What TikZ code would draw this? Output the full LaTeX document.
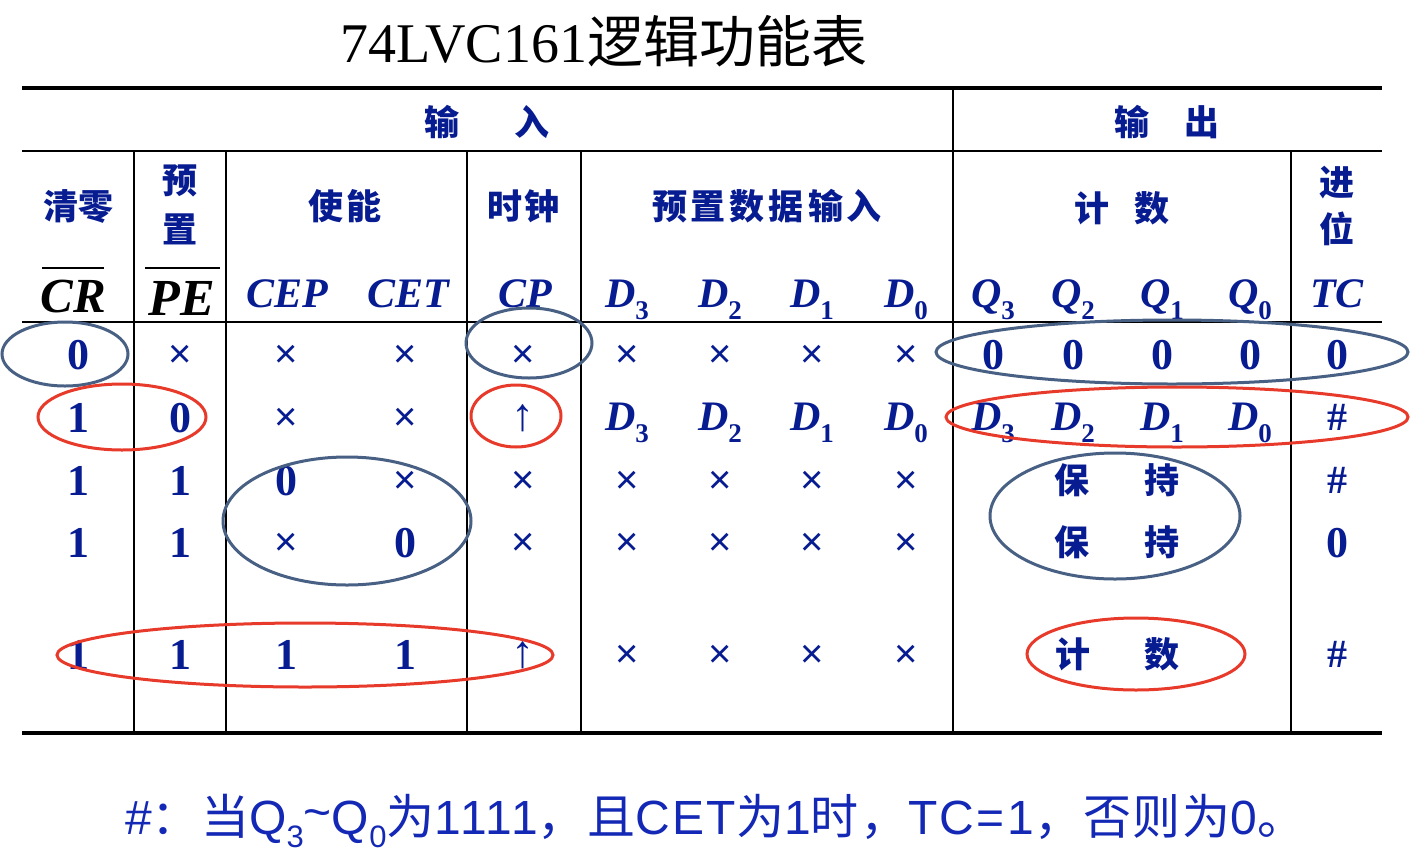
\documentclass[tikz,border=0pt]{standalone}
\usepackage{fontspec}
\setmainfont{Liberation Serif}
\newfontfamily\cjk{Noto Sans CJK SC}
\newfontfamily\lsans{Liberation Sans}
\newfontfamily\notesans[LetterSpace=5]{Liberation Sans}
\newfontfamily\notecjk[LetterSpace=3]{Noto Sans CJK SC}
\definecolor{tb}{RGB}{8,28,145}
\definecolor{fb}{RGB}{20,40,182}
\definecolor{eb}{RGB}{72,96,132}
\definecolor{er}{RGB}{232,58,42}
\newcommand\lowidx[1]{\raisebox{-0.3em}{\fontsize{27}{27}\selectfont\upshape #1}}
\newcommand\flowidx[1]{\raisebox{-0.28em}{\fontsize{31}{31}\selectfont #1}}
\begin{document}
\begin{tikzpicture}[x=1pt,y=-1pt,
  cn/.style={font=\cjk\bfseries\fontsize{35}{35}\selectfont,text=tb,inner sep=0pt},
  lab/.style={font=\bfseries\itshape\fontsize{42}{42}\selectfont,text=tb,inner sep=0pt,anchor=base},
  num/.style={font=\bfseries\fontsize{44}{44}\selectfont,text=tb,inner sep=0pt,anchor=base},
  crs/.style={font=\lsans\fontsize{40}{40}\selectfont,text=tb,inner sep=0pt,anchor=base},
  arr/.style={font=\fontsize{46}{46}\selectfont,text=tb,inner sep=0pt},
  hsh/.style={font=\bfseries\fontsize{40}{40}\selectfont,text=tb,inner sep=0pt,anchor=base},
  thick rule/.style={line width=4pt},
  mid rule/.style={line width=2.4pt},
  col rule/.style={line width=1.8pt},
  blue ring/.style={draw=eb,line width=3pt},
  red ring/.style={draw=er,line width=3pt}]
\useasboundingbox[fill=white] (0,0) rectangle (1410,854);

% title
\node[anchor=base west,inner sep=0pt,font=\fontsize{56}{56}\selectfont] (title) at (340,62)
  {74LVC161{\cjk\fontsize{56}{56}\selectfont 逻辑功能表}};

% rules
\coordinate (tl) at (22,88);   \coordinate (tr) at (1382,88);
\coordinate (hl) at (22,151);  \coordinate (hr) at (1382,151);
\coordinate (ml) at (22,322);  \coordinate (mr) at (1382,322);
\coordinate (bl) at (22,733);  \coordinate (br) at (1382,733);
\draw[thick rule] (tl) -- (tr);
\draw[thick rule] (bl) -- (br);
\draw[mid rule] (hl) -- (hr);
\draw[mid rule] (ml) -- (mr);
\foreach \x in {134,226,467,581,1291}{
  \draw[col rule] (\x,151) -- (\x,733);
}
\draw[col rule] (953,88) -- (953,733);

% header row 1
\node[cn] (inhead) at (487,122) {输\hspace{55pt}入};
\node[cn] (outhead) at (1167,122) {输\hspace{35pt}出};

% header row 2
\node[cn] (qingling) at (78,206) {清零};
\node[cn] (yu) at (180,181) {预};
\node[cn] (zhi) at (180,229) {置};
\node[cn] (shineng) at (345,206) {使\hspace{4pt}能};
\node[cn] (shizhong) at (523,206) {时\hspace{2pt}钟};
\node[cn] (yuzhi) at (767,206) {预\hspace{4pt}置\hspace{4pt}数\hspace{4pt}据\hspace{4pt}输\hspace{4pt}入};
\node[cn] (jishu) at (1122,208) {计\hspace{25pt}数};
\node[cn] (jin) at (1337,183) {进};
\node[cn] (wei) at (1337,229) {位};

% header row 3
\node[lab,text=black,font=\bfseries\itshape\fontsize{49}{49}\selectfont] (cr) at (73,312) {CR};
\node[lab,text=black,font=\bfseries\itshape\fontsize{52}{52}\selectfont] (pe) at (182,315) {PE};
\coordinate (cra) at (42,268); \coordinate (crb) at (104,268);
\coordinate (pea) at (145,268); \coordinate (peb) at (220,268);
\draw[line width=1.4pt] (cra) -- (crb);
\draw[line width=1.4pt] (pea) -- (peb);
\node[lab] (cep) at (287,307) {CEP};
\node[lab] (cet) at (408,307) {CET};
\node[lab] (cp) at (525,307) {CP};
\node[lab] (hd3) at (627,307) {D\lowidx{3}};
\node[lab] (hd2) at (720,307) {D\lowidx{2}};
\node[lab] (hd1) at (812,307) {D\lowidx{1}};
\node[lab] (hd0) at (906,307) {D\lowidx{0}};
\node[lab] (hq3) at (993,307) {Q\lowidx{3}};
\node[lab] (hq2) at (1073,307) {Q\lowidx{2}};
\node[lab] (hq1) at (1162,307) {Q\lowidx{1}};
\node[lab] (hq0) at (1250,307) {Q\lowidx{0}};
\node[lab] (htc) at (1337,307) {TC};

% row 1 (baseline 369)
\node[num] (a1) at (78,369) {0};
\foreach \x [count=\i from 2] in {180,286,405,523,627,720,812,906}{
  \node[crs] (a\i) at (\x,367) {×};
}
\foreach \x [count=\i from 10] in {993,1073,1162,1250,1337}{
  \node[num] (a\i) at (\x,369) {0};
}

% row 2 (baseline 432)
\node[num] (b1) at (78,432) {1};
\node[num] (b2) at (180,432) {0};
\node[crs] (b3) at (286,430) {×};
\node[crs] (b4) at (405,430) {×};
\node[arr] (b5) at (523,418) {↑};
\foreach \x/\k [count=\i from 6] in {627/3,720/2,812/1,906/0,993/3,1073/2,1162/1,1250/0}{
  \node[lab] (b\i) at (\x,430) {D\lowidx{\k}};
}
\node[hsh] (b14) at (1337,430) {\#};

% row 3 (baseline 495)
\node[num] (c1) at (78,495) {1};
\node[num] (c2) at (180,495) {1};
\node[num] (c3) at (286,495) {0};
\foreach \x [count=\i from 4] in {405,523,627,720,812,906}{
  \node[crs] (c\i) at (\x,493) {×};
}
\node[cn] (bao1) at (1072,480) {保};
\node[cn] (chi1) at (1162,480) {持};
\node[hsh] (c14) at (1337,493) {\#};

% row 4 (baseline 557)
\node[num] (d1) at (78,557) {1};
\node[num] (d2) at (180,557) {1};
\node[crs] (d3) at (286,555) {×};
\node[num] (d4) at (405,557) {0};
\foreach \x [count=\i from 5] in {523,627,720,812,906}{
  \node[crs] (d\i) at (\x,555) {×};
}
\node[cn] (bao2) at (1072,542) {保};
\node[cn] (chi2) at (1162,542) {持};
\node[num] (d14) at (1337,557) {0};

% row 5 (baseline 669)
\foreach \x [count=\i] in {78,180,286,405}{
  \node[num] (e\i) at (\x,669) {1};
}
\node[arr] (e5) at (523,655) {↑};
\foreach \x [count=\i from 6] in {627,720,812,906}{
  \node[crs] (e\i) at (\x,667) {×};
}
\node[cn] (ji) at (1073,654) {计};
\node[cn] (shu) at (1162,654) {数};
\node[hsh] (e14) at (1337,667) {\#};

% rings
\draw[blue ring] (65,354) ellipse [x radius=63pt, y radius=32pt];
\draw[blue ring] (529,343) ellipse [x radius=63pt, y radius=35pt];
\draw[blue ring] (1172,352) ellipse [x radius=236pt, y radius=32pt];
\draw[blue ring] (347,521) ellipse [x radius=124pt, y radius=64pt];
\draw[blue ring] (1115,516) ellipse [x radius=125pt, y radius=63pt];
\draw[red ring] (122,417) ellipse [x radius=84pt, y radius=33pt];
\draw[red ring] (516,416) ellipse [x radius=45pt, y radius=31pt];
\draw[red ring] (1177,417) ellipse [x radius=231pt, y radius=30pt];
\draw[red ring] (305,655) ellipse [x radius=248pt, y radius=32pt];
\draw[red ring] (1136,654) ellipse [x radius=109pt, y radius=36pt];

% footnote
\node[anchor=base west,inner sep=0pt,text=fb,font=\notesans\fontsize{48}{48}\selectfont] (note) at (125,834)
  {\#{\notecjk ：当}Q\flowidx{3}\raisebox{0.12em}{\textasciitilde}Q\flowidx{0}{\notecjk 为}1111{\notecjk ，且}CET{\notecjk 为}1{\notecjk 时，}TC=1{\notecjk ，否则为}0{\notecjk 。}};
\end{tikzpicture}
\end{document}
